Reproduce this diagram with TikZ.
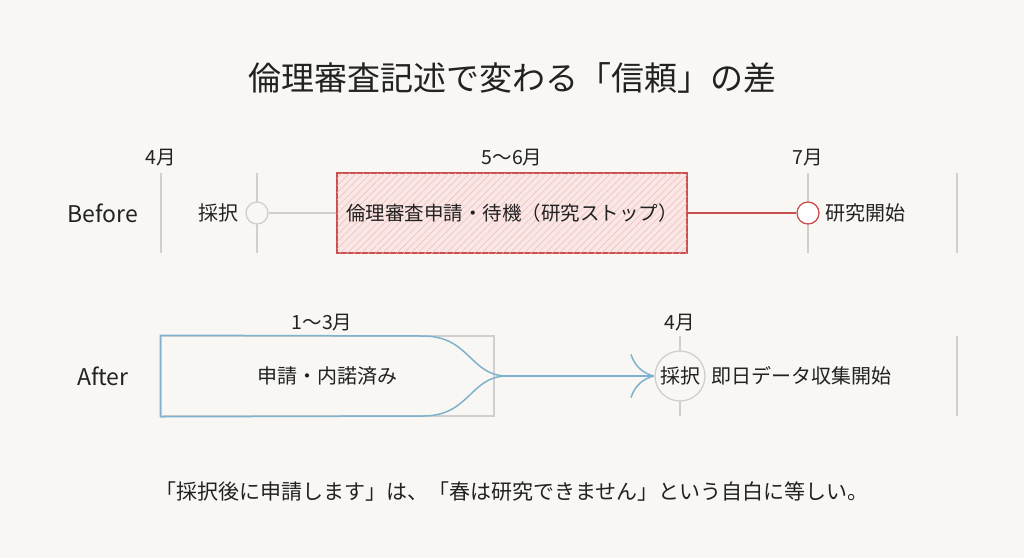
\documentclass[tikz,border=0pt]{standalone}
\usepackage{fontspec}
\setmainfont{Noto Sans CJK JP}
\usetikzlibrary{arrows.meta,patterns.meta}

\definecolor{bgcol}{HTML}{F8F7F3}
\definecolor{ink}{HTML}{222222}
\definecolor{tickgray}{HTML}{CFCFCF}
\definecolor{stopred}{HTML}{C9504F}
\definecolor{stoppink}{HTML}{FAE6E4}
\definecolor{hatchred}{HTML}{EBBDBA}
\definecolor{flowblue}{HTML}{7FB2CE}

\tikzset{
  txt/.style={inner sep=0pt, text=ink, font=\fontsize{20}{24}\selectfont},
  month/.style={txt, font=\fontsize{19.5}{23}\selectfont},
  rowlabel/.style={txt, font=\fontsize{23}{27}\selectfont},
  tick/.style={draw=tickgray, line width=1.5pt},
  dot/.style={circle, draw=tickgray, line width=1.3pt, fill=bgcol, minimum size=22pt, inner sep=0pt},
}

\begin{document}
\begin{tikzpicture}[x={(1pt,0)}, y={(0,-1pt)}]
  \fill[bgcol] (0,0) rectangle (1024,558);
  \useasboundingbox (0,0) rectangle (1024,558);

  \node[txt, font=\fontsize{33}{38}\selectfont] (title) at (512,78) {倫理審査記述で変わる「信頼」の差};

  % Before row
  \node[rowlabel] (before) at (103,213) {Before};
  \draw[tick] (161,173) -- (161,253);
  \draw[tick] (257,173) -- (257,253);
  \draw[tick] (808,173) -- (808,253);
  \draw[tick] (957,173) -- (957,253);

  \node[month] (apr) at (161,158) {4月};
  \node[month] (mayjun) at (512,158) {5〜6月};
  \node[month] (jul) at (808,158) {7月};

  \node[dot] (adopt) at (257,213) {};
  \node[txt, anchor=east] (adopttxt) at (239,213) {採択};
  \node[txt, font=\fontsize{19.5}{23}\selectfont, draw=stopred, line width=1.5pt, fill=stoppink,
        postaction={pattern={Lines[angle=45,distance=5pt,line width=0.5pt]}, pattern color=hatchred},
        minimum width=350pt, minimum height=80pt] (stop) at (512,213) {倫理審査申請・待機（研究ストップ）};
  \node[dot, draw=stopred, fill=white] (start) at (808,213) {};
  \node[txt, anchor=west] (starttxt) at (825,213) {研究開始};

  \draw[tick, line width=1.3pt] (adopt) -- (stop);
  \draw[stopred, line width=1.5pt] (stop) -- (start);

  % After row
  \node[rowlabel] (after) at (103,376) {After};
  \draw[tick] (680,336) -- (680,416);
  \draw[tick] (957,336) -- (957,416);

  \node[month] (janmar) at (322,323) {1〜3月};
  \node[month] (apr2) at (680,323) {4月};

  \node[txt, draw=tickgray, line width=1.5pt, minimum width=333pt, minimum height=80pt] (prep) at (327.5,376) {申請・内諾済み};
  \coordinate (merge) at (507,376);
  \draw[flowblue, line width=1.5pt] (prep.south west) -- (prep.north west) -- (423,336) .. controls (470,336) and (470,376) .. (merge);
  \draw[flowblue, line width=1.5pt] (prep.south west) -- (423,416) .. controls (470,416) and (470,376) .. (merge);

  \node[dot, minimum size=50pt, txt] (adopt2) at (680,376) {採択};
  \draw[flowblue, line width=1.5pt, -{Computer Modern Rightarrow[length=24pt,width=44pt]}] (merge) -- (adopt2.west);
  \node[txt, anchor=west] (collect) at (711,376) {即日データ収集開始};

  \node[txt, font=\fontsize{21}{25}\selectfont] (note) at (512,492) {「採択後に申請します」は、「春は研究できません」という自白に等しい。};
\end{tikzpicture}
\end{document}
